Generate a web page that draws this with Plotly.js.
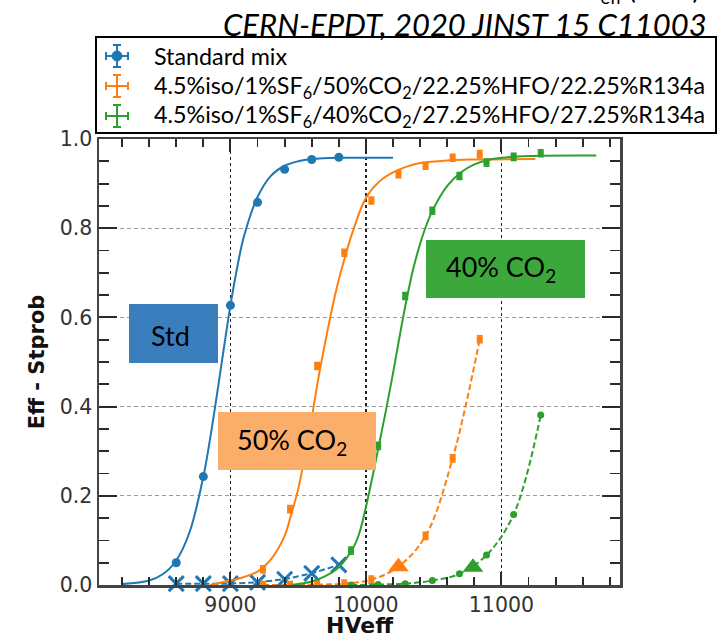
<!DOCTYPE html>
<html>
<head>
<meta charset="utf-8">
<script src="https://cdn.plot.ly/plotly-3.0.1.min.js"></script>
<style>html,body{margin:0;padding:0;background:#fff;}#chart{width:723px;height:638px;}</style>
</head>
<body>
<div id="chart"></div>
<script>
// ---- data ----
const stdX = [8600, 8800, 9000, 9200, 9400, 9600, 9800];
const stdEff = [0.050, 0.243, 0.627, 0.858, 0.932, 0.954, 0.959];
const stdStX = [8600, 8800, 9000, 9200, 9400, 9600, 9800];
const stdSt = [0.003, 0.003, 0.003, 0.006, 0.013, 0.026, 0.045];
const stdFitX = [8200, 8400, 8500, 8600, 8700, 8800, 8850, 8900, 8950, 9000, 9050, 9100, 9200, 9300, 9400, 9500, 9600, 9800, 10000, 10200];
const stdFitY = [0.002, 0.010, 0.024, 0.055, 0.120, 0.243, 0.328, 0.426, 0.528, 0.627, 0.712, 0.782, 0.870, 0.918, 0.940, 0.950, 0.955, 0.958, 0.958, 0.958];

const co50X = [9240, 9440, 9640, 9840, 10040, 10240, 10440, 10640, 10840];
const co50Eff = [0.035, 0.170, 0.491, 0.745, 0.862, 0.921, 0.940, 0.958, 0.966];
const co50St = [0.000, 0.000, 0.001, 0.003, 0.012, 0.041, 0.110, 0.284, 0.551];
const co50FitX = [8850, 9000, 9100, 9200, 9300, 9400, 9450, 9500, 9550, 9600, 9650, 9700, 9750, 9800, 9850, 9900, 10000, 10100, 10200, 10300, 10400, 10600, 10800, 11250];
const co50FitY = [0.000, 0.010, 0.018, 0.030, 0.058, 0.110, 0.160, 0.215, 0.290, 0.375, 0.465, 0.545, 0.620, 0.685, 0.740, 0.790, 0.868, 0.905, 0.925, 0.938, 0.946, 0.952, 0.954, 0.955];
const co50WpX = [10240];
const co50WpY = [0.041];

const co40X = [9890, 10090, 10290, 10490, 10690, 10890, 11090, 11290];
const co40Eff = [0.077, 0.312, 0.648, 0.839, 0.917, 0.947, 0.960, 0.968];
const co40St = [0.000, 0.001, 0.003, 0.010, 0.025, 0.067, 0.158, 0.381];
const co40FitX = [9450, 9600, 9700, 9800, 9900, 9950, 10000, 10050, 10100, 10150, 10200, 10250, 10300, 10350, 10400, 10450, 10500, 10600, 10700, 10800, 10900, 11000, 11200, 11700];
const co40FitY = [0.000, 0.008, 0.020, 0.040, 0.080, 0.115, 0.175, 0.245, 0.320, 0.395, 0.475, 0.560, 0.640, 0.710, 0.765, 0.810, 0.845, 0.895, 0.925, 0.943, 0.953, 0.958, 0.962, 0.963];
const co40WpX = [10790];
const co40WpY = [0.040];

const legendLabels = [
  'Standard mix',
  '4.5%iso/1%SF<sub>6</sub>/50%CO<sub>2</sub>/22.25%HFO/22.25%R134a',
  '4.5%iso/1%SF<sub>6</sub>/40%CO<sub>2</sub>/27.25%HFO/27.25%R134a'
];
const boxLabels = ['Std', '50% CO<sub>2</sub>', '40% CO<sub>2</sub>'];
const titleText = 'CERN-EPDT, 2020 JINST 15 C11003';
const topCutText = 'HV<sub>eff</sub> (Volts)';

// ---- style ----
const BLUE = '#1f77b4', ORANGE = '#ff7f0e', GREEN = '#2ca02c';
const ML = 99, MR = 103, MT = 139, MB = 53, W = 723, H = 638;
const PW = W - ML - MR, PH = H - MT - MB;
const PX = p => (p - ML) / PW;
const PY = p => (H - MB - p) / PH;
const XR = [8030, 11875], YR = [0, 1];
const TICKC = '#2a2a2a';

const dashed = '6px,3px';
const traces = [
  // Standard mix
  {x: stdFitX, y: stdFitY, mode: 'lines', line: {color: BLUE, width: 2, shape: 'spline'}},
  {x: stdX, y: stdEff, mode: 'markers', marker: {color: BLUE, size: 9, symbol: 'circle'}},
  {x: stdStX, y: stdSt, mode: 'lines+markers', line: {color: BLUE, width: 2, dash: dashed},
   marker: {color: BLUE, size: 15, symbol: 'x-thin-open', line: {color: BLUE, width: 3}}, cliponaxis: false},
  // 50% CO2
  {x: co50FitX, y: co50FitY, mode: 'lines', line: {color: ORANGE, width: 2, shape: 'spline'}},
  {x: co50X, y: co50Eff, mode: 'markers', marker: {color: ORANGE, size: 6, symbol: 'square'},
   error_y: {type: 'constant', value: 0.008, width: 3, thickness: 1.5, color: ORANGE}},
  {x: co50X, y: co50St, mode: 'lines+markers', line: {color: ORANGE, width: 2, dash: dashed, shape: 'spline'},
   marker: {color: ORANGE, size: 6, symbol: 'square'}, cliponaxis: false,
   error_y: {type: 'constant', value: 0.008, width: 3, thickness: 1.5, color: ORANGE}},
  {x: co50WpX, y: co50WpY, mode: 'markers', marker: {color: ORANGE, size: 18, symbol: 'triangle-up'}},
  // 40% CO2
  {x: co40FitX, y: co40FitY, mode: 'lines', line: {color: GREEN, width: 2, shape: 'spline'}},
  {x: co40X, y: co40Eff, mode: 'markers', marker: {color: GREEN, size: 6, symbol: 'square'},
   error_y: {type: 'constant', value: 0.008, width: 3, thickness: 1.5, color: GREEN}},
  {x: co40X, y: co40St, mode: 'lines+markers', line: {color: GREEN, width: 2, dash: dashed, shape: 'spline'},
   marker: {color: GREEN, size: 7, symbol: 'circle'}, cliponaxis: false},
  {x: co40WpX, y: co40WpY, mode: 'markers', marker: {color: GREEN, size: 18, symbol: 'triangle-up'}},
  // carrier for the top / right tick axes (draws nothing)
  {x: stdX, y: stdEff, xaxis: 'x2', yaxis: 'y2', mode: 'none', hoverinfo: 'skip'}
];

const shapes = [];
const annotations = [];
// coloured label boxes
const boxes = [
  {x0: 129, x1: 218, y0: 304, y1: 363, fill: '#3a7ebd', tx: 170, ty: 335, text: boxLabels[0]},
  {x0: 218, x1: 376, y0: 412, y1: 470, fill: '#fbad6a', tx: 292, ty: 441, text: boxLabels[1]},
  {x0: 426, x1: 585, y0: 240, y1: 298, fill: '#3ca83c', tx: 501, ty: 268, text: boxLabels[2]}
];
boxes.forEach(b => {
  shapes.push({type: 'rect', xref: 'paper', yref: 'paper', x0: PX(b.x0), x1: PX(b.x1), y0: PY(b.y1), y1: PY(b.y0),
    fillcolor: b.fill, line: {width: 0}, layer: 'above'});
  annotations.push({xref: 'paper', yref: 'paper', x: PX(b.tx), y: PY(b.ty), xanchor: 'center', yanchor: 'middle',
    text: b.text, showarrow: false, font: {family: 'Lato', size: 27, color: '#000'}});
});
// legend box
shapes.push({type: 'rect', xref: 'paper', yref: 'paper', x0: PX(96), x1: PX(716), y0: PY(133), y1: PY(37),
  fillcolor: '#fff', line: {color: '#000', width: 2}, layer: 'above'});
const rowY = [56, 86, 116];
const rowC = [BLUE, ORANGE, GREEN];
const line = (x0, y0, x1, y1, c) => shapes.push({type: 'line', xref: 'paper', yref: 'paper',
  x0: PX(x0), y0: PY(y0), x1: PX(x1), y1: PY(y1), line: {color: c, width: 2}, layer: 'above'});
rowY.forEach((cy, i) => {
  const c = rowC[i], cx = 117;
  line(cx, cy - 11, cx, cy + 11, c);
  line(cx - 4, cy - 11, cx + 4, cy - 11, c);
  line(cx - 4, cy + 11, cx + 4, cy + 11, c);
  line(cx - 11, cy, cx + 11, cy, c);
  line(cx - 11, cy - 4, cx - 11, cy + 4, c);
  line(cx + 11, cy - 4, cx + 11, cy + 4, c);
  if (i === 0) {
    shapes.push({type: 'circle', xref: 'paper', yref: 'paper', x0: PX(cx - 5), x1: PX(cx + 5), y0: PY(cy + 5), y1: PY(cy - 5),
      fillcolor: c, line: {color: c, width: 1}, layer: 'above'});
  }
  annotations.push({xref: 'paper', yref: 'paper', x: PX(152), y: PY(cy), xanchor: 'left', yanchor: 'middle',
    text: legendLabels[i], showarrow: false, font: {family: 'Lato', size: 23.3, color: '#000'}});
});
// title text
annotations.push({xref: 'paper', yref: 'paper', x: PX(709), y: PY(24), xanchor: 'right', yanchor: 'middle',
  text: '<i>' + titleText + '</i>', showarrow: false, font: {family: 'Lato', size: 31, color: '#000', style: 'italic'}});
annotations.push({xref: 'paper', yref: 'paper', x: PX(701), y: PY(10), xanchor: 'right', yanchor: 'bottom',
  text: topCutText, showarrow: false, font: {family: 'Lato', size: 26, color: '#000'}});

const tickFont = {family: 'DejaVu Sans', size: 20.5, color: '#333'};
const layout = {
  width: W, height: H,
  margin: {l: ML, r: MR, t: MT, b: MB},
  paper_bgcolor: '#fff', plot_bgcolor: '#fff',
  showlegend: false,
  xaxis: {
    range: XR, tick0: 0, dtick: 1000, tickformat: 'd', ticklen: 13,
    showline: true, linecolor: '#444', linewidth: 2.5, mirror: true,
    ticks: 'inside', tickcolor: TICKC, tickwidth: 2, zeroline: false,
    showgrid: true, gridcolor: '#222', gridwidth: 1.3, griddash: '3px,3px',
    tickfont: tickFont,
    minor: {tick0: 0, dtick: 200, ticks: 'inside', ticklen: 8, tickwidth: 1.8, tickcolor: TICKC, showgrid: false},
    title: {text: 'HVeff', standoff: 11, font: {family: 'DejaVu Sans', size: 22, color: '#111', weight: 'bold'}}
  },
  yaxis: {
    range: YR, tick0: 0, dtick: 0.2, tickformat: '.1f', ticklen: 18,
    showline: true, linecolor: '#444', linewidth: 2.5, mirror: true,
    ticks: 'inside', tickcolor: TICKC, tickwidth: 2, zeroline: false,
    showgrid: true, gridcolor: '#9a9a9a', gridwidth: 1.3, griddash: '4px,3px',
    tickfont: tickFont,
    minor: {tick0: 0, dtick: 0.05, ticks: 'inside', ticklen: 10, tickwidth: 1.8, tickcolor: TICKC, showgrid: false},
    title: {text: 'Eff - Stprob', standoff: 10, font: {family: 'DejaVu Sans', size: 21, color: '#111', weight: 'bold'}}
  },
  xaxis2: {
    overlaying: 'x', side: 'top', anchor: 'y2', range: XR, tick0: 0, dtick: 1000,
    showticklabels: false, showgrid: false, zeroline: false, showline: false,
    ticks: 'inside', ticklen: 13, tickwidth: 2, tickcolor: TICKC,
    minor: {tick0: 0, dtick: 200, ticks: 'inside', ticklen: 8, tickwidth: 1.8, tickcolor: TICKC, showgrid: false}
  },
  yaxis2: {
    overlaying: 'y', side: 'right', anchor: 'x2', range: YR, tick0: 0, dtick: 0.2,
    showticklabels: false, showgrid: false, zeroline: false, showline: false,
    ticks: 'inside', ticklen: 18, tickwidth: 2, tickcolor: TICKC,
    minor: {tick0: 0, dtick: 0.05, ticks: 'inside', ticklen: 10, tickwidth: 1.8, tickcolor: TICKC, showgrid: false}
  },
  shapes: shapes,
  annotations: annotations
};
Plotly.newPlot('chart', traces, layout, {displayModeBar: false, staticPlot: true});
</script>
</body>
</html>
